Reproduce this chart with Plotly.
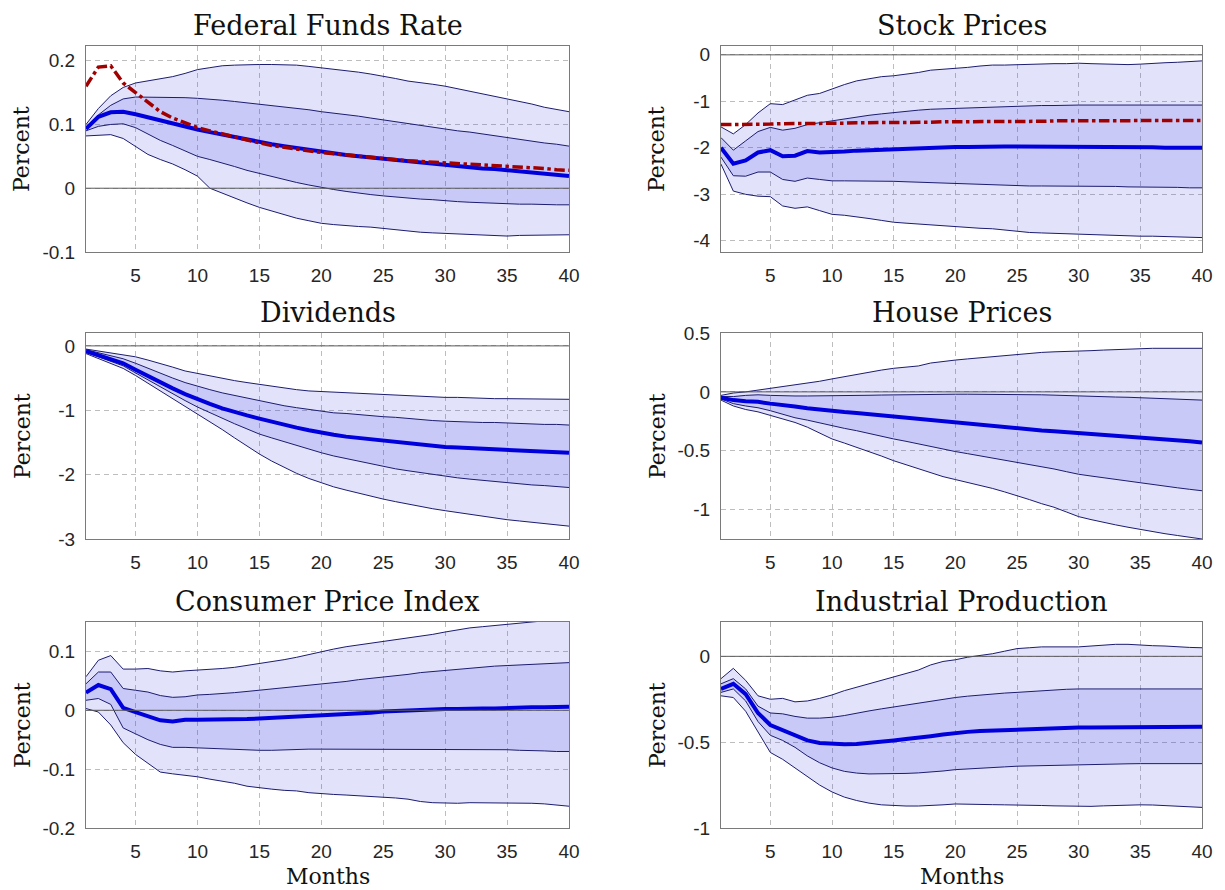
import plotly.graph_objects as go
from plotly.subplots import make_subplots

months = list(range(1, 41))

titles = ["Federal Funds Rate", "Stock Prices", "Dividends", "House Prices",
          "Consumer Price Index", "Industrial Production"]

# ---------------- Federal Funds Rate ----------------
ffr_med = [0.093, 0.112, 0.119, 0.120, 0.116, 0.111, 0.106, 0.102, 0.097, 0.092,
           0.088, 0.084, 0.080, 0.076, 0.072, 0.069, 0.066, 0.063, 0.060, 0.057,
           0.055, 0.052, 0.050, 0.048, 0.046, 0.044, 0.042, 0.040, 0.038, 0.036,
           0.034, 0.033, 0.031, 0.030, 0.028, 0.026, 0.025, 0.023, 0.021, 0.019]
ffr_red = [0.160, 0.190, 0.192, 0.165, 0.150, 0.135, 0.120, 0.110, 0.102, 0.095,
           0.090, 0.085, 0.080, 0.075, 0.071, 0.067, 0.064, 0.061, 0.058, 0.056,
           0.054, 0.052, 0.050, 0.048, 0.046, 0.045, 0.043, 0.042, 0.041, 0.039,
           0.038, 0.037, 0.036, 0.035, 0.034, 0.033, 0.032, 0.031, 0.029, 0.028]
ffr_hi68 = [0.095, 0.115, 0.130, 0.140, 0.143, 0.143, 0.143, 0.143, 0.142, 0.141,
            0.140, 0.138, 0.136, 0.134, 0.132, 0.130, 0.128, 0.125, 0.123, 0.120,
            0.118, 0.115, 0.113, 0.110, 0.107, 0.104, 0.101, 0.098, 0.095, 0.092,
            0.090, 0.088, 0.085, 0.082, 0.079, 0.077, 0.074, 0.071, 0.069, 0.066]
ffr_hi90 = [0.100, 0.125, 0.145, 0.158, 0.165, 0.168, 0.171, 0.175, 0.180, 0.186,
            0.189, 0.192, 0.193, 0.194, 0.194, 0.194, 0.194, 0.193, 0.191, 0.189,
            0.187, 0.185, 0.182, 0.179, 0.176, 0.172, 0.168, 0.166, 0.163, 0.160,
            0.156, 0.152, 0.148, 0.144, 0.141, 0.137, 0.132, 0.127, 0.123, 0.120]
ffr_lo68 = [0.090, 0.097, 0.100, 0.101, 0.095, 0.085, 0.075, 0.067, 0.058, 0.050,
            0.045, 0.040, 0.034, 0.028, 0.023, 0.018, 0.013, 0.009, 0.005, 0.001,
            -0.002, -0.005, -0.008, -0.010, -0.012, -0.014, -0.015, -0.017, -0.018, -0.020,
            -0.021, -0.022, -0.023, -0.024, -0.025, -0.025, -0.025, -0.026, -0.026, -0.026]
ffr_lo90 = [0.082, 0.083, 0.084, 0.078, 0.066, 0.053, 0.045, 0.038, 0.029, 0.019,
            0.000, -0.008, -0.016, -0.023, -0.030, -0.036, -0.042, -0.047, -0.051, -0.055,
            -0.057, -0.059, -0.060, -0.061, -0.063, -0.065, -0.068, -0.069, -0.070, -0.071,
            -0.072, -0.073, -0.074, -0.075, -0.075, -0.074, -0.074, -0.073, -0.073, -0.073]

# ---------------- Stock Prices ----------------
sp_med = [-2.00, -2.34, -2.27, -2.10, -2.05, -2.18, -2.17, -2.07, -2.10, -2.10,
          -2.08, -2.06, -2.05, -2.04, -2.03, -2.02, -2.01, -1.98, -1.98, -1.98,
          -1.98, -1.97, -1.97, -1.97, -1.97, -1.97, -1.97, -1.97, -1.98, -1.98,
          -1.98, -1.98, -1.99, -1.99, -1.99, -1.99, -2.00, -2.00, -2.00, -2.00]
sp_red = [-1.50, -1.50, -1.49, -1.49, -1.49, -1.48, -1.48, -1.48, -1.47, -1.47,
          -1.47, -1.46, -1.46, -1.46, -1.45, -1.45, -1.45, -1.45, -1.44, -1.44,
          -1.44, -1.44, -1.43, -1.43, -1.43, -1.43, -1.43, -1.42, -1.42, -1.42,
          -1.42, -1.42, -1.42, -1.41, -1.41, -1.41, -1.41, -1.41, -1.41, -1.41]
sp_hi68 = [-1.78, -2.05, -1.85, -1.65, -1.56, -1.62, -1.58, -1.50, -1.46, -1.42,
           -1.38, -1.33, -1.30, -1.27, -1.24, -1.22, -1.19, -1.17, -1.16, -1.15,
           -1.14, -1.13, -1.12, -1.11, -1.10, -1.10, -1.09, -1.09, -1.08, -1.08,
           -1.08, -1.08, -1.08, -1.08, -1.08, -1.08, -1.08, -1.08, -1.08, -1.08]
sp_hi90 = [-1.55, -1.70, -1.50, -1.25, -1.05, -1.07, -0.97, -0.87, -0.83, -0.73,
           -0.64, -0.56, -0.52, -0.47, -0.45, -0.42, -0.38, -0.33, -0.31, -0.30,
           -0.27, -0.24, -0.22, -0.22, -0.21, -0.21, -0.20, -0.19, -0.19, -0.18,
           -0.19, -0.20, -0.20, -0.21, -0.20, -0.18, -0.17, -0.16, -0.14, -0.13]
sp_lo68 = [-2.20, -2.60, -2.61, -2.52, -2.52, -2.68, -2.72, -2.65, -2.68, -2.71,
           -2.71, -2.71, -2.71, -2.72, -2.72, -2.73, -2.74, -2.75, -2.76, -2.77,
           -2.78, -2.79, -2.80, -2.81, -2.82, -2.82, -2.82, -2.82, -2.82, -2.82,
           -2.83, -2.83, -2.83, -2.84, -2.84, -2.84, -2.85, -2.85, -2.86, -2.86]
sp_lo90 = [-2.35, -2.93, -3.00, -3.04, -3.05, -3.25, -3.30, -3.27, -3.35, -3.43,
           -3.45, -3.48, -3.52, -3.56, -3.60, -3.62, -3.64, -3.65, -3.68, -3.70,
           -3.71, -3.73, -3.74, -3.77, -3.80, -3.82, -3.83, -3.84, -3.85, -3.86,
           -3.87, -3.87, -3.88, -3.89, -3.90, -3.90, -3.91, -3.92, -3.92, -3.93]

# ---------------- Dividends ----------------
dv_med = [-0.08, -0.14, -0.20, -0.27, -0.37, -0.47, -0.57, -0.66, -0.75, -0.83,
          -0.90, -0.97, -1.03, -1.08, -1.13, -1.18, -1.23, -1.27, -1.31, -1.35,
          -1.38, -1.41, -1.43, -1.46, -1.48, -1.50, -1.52, -1.54, -1.55, -1.57,
          -1.58, -1.59, -1.60, -1.61, -1.62, -1.63, -1.64, -1.64, -1.65, -1.66]
dv_hi68 = [-0.06, -0.11, -0.16, -0.20, -0.27, -0.35, -0.42, -0.50, -0.57, -0.63,
           -0.68, -0.73, -0.77, -0.82, -0.86, -0.89, -0.93, -0.96, -0.99, -1.02,
           -1.04, -1.05, -1.07, -1.08, -1.10, -1.11, -1.13, -1.14, -1.16, -1.17,
           -1.18, -1.18, -1.19, -1.19, -1.20, -1.21, -1.21, -1.22, -1.22, -1.23]
dv_hi90 = [-0.05, -0.08, -0.11, -0.13, -0.17, -0.22, -0.27, -0.33, -0.39, -0.43,
           -0.47, -0.50, -0.54, -0.57, -0.60, -0.63, -0.65, -0.68, -0.70, -0.71,
           -0.72, -0.73, -0.74, -0.75, -0.76, -0.77, -0.78, -0.79, -0.79, -0.80,
           -0.80, -0.81, -0.81, -0.82, -0.82, -0.82, -0.82, -0.83, -0.83, -0.83]
dv_lo68 = [-0.10, -0.17, -0.24, -0.31, -0.42, -0.53, -0.64, -0.75, -0.85, -0.95,
           -1.04, -1.12, -1.21, -1.29, -1.37, -1.43, -1.49, -1.55, -1.61, -1.66,
           -1.71, -1.75, -1.80, -1.84, -1.88, -1.91, -1.94, -1.97, -2.00, -2.03,
           -2.05, -2.07, -2.09, -2.11, -2.13, -2.14, -2.16, -2.17, -2.19, -2.20]
dv_lo90 = [-0.12, -0.20, -0.27, -0.35, -0.46, -0.58, -0.70, -0.82, -0.93, -1.05,
           -1.17, -1.30, -1.43, -1.56, -1.68, -1.79, -1.89, -1.98, -2.06, -2.13,
           -2.19, -2.24, -2.29, -2.34, -2.38, -2.42, -2.46, -2.49, -2.53, -2.56,
           -2.59, -2.62, -2.65, -2.68, -2.70, -2.72, -2.74, -2.76, -2.78, -2.80]

# ---------------- House Prices ----------------
hp_med = [-0.050, -0.070, -0.080, -0.085, -0.100, -0.110, -0.125, -0.140, -0.152, -0.165,
          -0.172, -0.180, -0.190, -0.200, -0.212, -0.222, -0.233, -0.245, -0.255, -0.265,
          -0.270, -0.278, -0.288, -0.298, -0.310, -0.320, -0.328, -0.335, -0.342, -0.350,
          -0.357, -0.364, -0.371, -0.378, -0.385, -0.393, -0.402, -0.411, -0.420, -0.430]
hp_hi68 = [-0.040, -0.040, -0.030, -0.025, -0.030, -0.035, -0.035, -0.035, -0.035, -0.035,
           -0.033, -0.031, -0.029, -0.027, -0.025, -0.023, -0.022, -0.021, -0.020, -0.020,
           -0.020, -0.020, -0.020, -0.020, -0.020, -0.020, -0.025, -0.028, -0.032, -0.038,
           -0.040, -0.042, -0.044, -0.046, -0.050, -0.054, -0.058, -0.062, -0.066, -0.070]
hp_hi90 = [-0.030, -0.010, 0.000, 0.015, 0.025, 0.040, 0.055, 0.070, 0.090, 0.110,
           0.130, 0.150, 0.170, 0.185, 0.200, 0.210, 0.220, 0.245, 0.260, 0.270,
           0.280, 0.290, 0.300, 0.310, 0.320, 0.330, 0.335, 0.340, 0.342, 0.345,
           0.350, 0.355, 0.360, 0.365, 0.370, 0.370, 0.370, 0.370, 0.370, 0.370]
hp_lo68 = [-0.060, -0.100, -0.120, -0.135, -0.160, -0.190, -0.220, -0.240, -0.265, -0.290,
           -0.310, -0.330, -0.355, -0.378, -0.400, -0.420, -0.443, -0.465, -0.487, -0.507,
           -0.525, -0.543, -0.560, -0.578, -0.595, -0.615, -0.635, -0.655, -0.678, -0.700,
           -0.715, -0.730, -0.745, -0.758, -0.770, -0.785, -0.800, -0.815, -0.828, -0.840]
hp_lo90 = [-0.070, -0.120, -0.150, -0.170, -0.200, -0.230, -0.260, -0.300, -0.350, -0.400,
           -0.435, -0.470, -0.510, -0.545, -0.585, -0.620, -0.655, -0.690, -0.720, -0.745,
           -0.770, -0.790, -0.820, -0.850, -0.880, -0.915, -0.950, -0.980, -1.020, -1.060,
           -1.085, -1.110, -1.130, -1.150, -1.170, -1.190, -1.205, -1.220, -1.235, -1.250]

# ---------------- Consumer Price Index ----------------
cpi_med = [0.030, 0.043, 0.036, 0.004, -0.003, -0.010, -0.017, -0.019, -0.016, -0.016,
           -0.016, -0.016, -0.015, -0.015, -0.014, -0.013, -0.012, -0.011, -0.010, -0.008,
           -0.007, -0.006, -0.005, -0.004, -0.002, -0.001, 0.000, 0.001, 0.001, 0.002,
           0.002, 0.003, 0.003, 0.003, 0.004, 0.004, 0.005, 0.005, 0.006, 0.006]
cpi_hi68 = [0.045, 0.065, 0.065, 0.037, 0.034, 0.031, 0.025, 0.022, 0.023, 0.026,
            0.027, 0.028, 0.030, 0.032, 0.034, 0.036, 0.038, 0.040, 0.042, 0.045,
            0.047, 0.049, 0.052, 0.054, 0.057, 0.059, 0.061, 0.064, 0.066, 0.068,
            0.070, 0.072, 0.073, 0.075, 0.076, 0.077, 0.078, 0.079, 0.080, 0.081]
cpi_hi90 = [0.057, 0.085, 0.093, 0.070, 0.070, 0.071, 0.067, 0.065, 0.067, 0.068,
            0.069, 0.071, 0.073, 0.076, 0.080, 0.083, 0.086, 0.090, 0.095, 0.100,
            0.104, 0.108, 0.111, 0.114, 0.117, 0.119, 0.122, 0.125, 0.129, 0.133,
            0.137, 0.140, 0.142, 0.144, 0.145, 0.147, 0.150, 0.152, 0.155, 0.158]
cpi_lo68 = [0.017, 0.020, 0.010, -0.030, -0.040, -0.050, -0.058, -0.063, -0.063, -0.064,
            -0.065, -0.066, -0.067, -0.068, -0.068, -0.068, -0.067, -0.067, -0.066, -0.066,
            -0.066, -0.066, -0.066, -0.066, -0.066, -0.066, -0.066, -0.067, -0.067, -0.067,
            -0.067, -0.067, -0.067, -0.067, -0.067, -0.068, -0.068, -0.069, -0.070, -0.070]
cpi_lo90 = [0.003, -0.003, -0.025, -0.055, -0.075, -0.090, -0.105, -0.108, -0.110, -0.113,
            -0.117, -0.120, -0.124, -0.129, -0.132, -0.134, -0.136, -0.137, -0.140, -0.142,
            -0.143, -0.144, -0.145, -0.146, -0.147, -0.149, -0.151, -0.155, -0.157, -0.158,
            -0.158, -0.157, -0.157, -0.157, -0.157, -0.158, -0.158, -0.159, -0.161, -0.163]

# ---------------- Industrial Production ----------------
ip_med = [-0.190, -0.160, -0.220, -0.330, -0.400, -0.430, -0.460, -0.490, -0.505, -0.510,
          -0.512, -0.510, -0.505, -0.500, -0.490, -0.482, -0.475, -0.465, -0.455, -0.445,
          -0.440, -0.435, -0.432, -0.428, -0.425, -0.423, -0.421, -0.419, -0.417, -0.415,
          -0.414, -0.413, -0.412, -0.411, -0.410, -0.410, -0.410, -0.410, -0.410, -0.410]
ip_hi68 = [-0.160, -0.130, -0.190, -0.290, -0.330, -0.335, -0.350, -0.360, -0.360, -0.355,
           -0.345, -0.330, -0.318, -0.306, -0.295, -0.283, -0.271, -0.260, -0.250, -0.240,
           -0.232, -0.225, -0.219, -0.214, -0.210, -0.205, -0.200, -0.195, -0.192, -0.190,
           -0.190, -0.190, -0.190, -0.190, -0.190, -0.190, -0.190, -0.190, -0.190, -0.190]
ip_hi90 = [-0.130, -0.070, -0.140, -0.230, -0.250, -0.245, -0.265, -0.260, -0.245, -0.225,
           -0.200, -0.180, -0.160, -0.140, -0.120, -0.100, -0.080, -0.050, -0.030, -0.020,
           -0.005, 0.005, 0.015, 0.030, 0.045, 0.050, 0.055, 0.055, 0.055, 0.055,
           0.060, 0.065, 0.070, 0.070, 0.065, 0.062, 0.060, 0.055, 0.052, 0.050]
ip_lo68 = [-0.210, -0.190, -0.260, -0.380, -0.460, -0.490, -0.530, -0.580, -0.620, -0.650,
           -0.670, -0.680, -0.685, -0.685, -0.685, -0.682, -0.679, -0.675, -0.668, -0.660,
           -0.655, -0.650, -0.647, -0.644, -0.640, -0.638, -0.636, -0.634, -0.632, -0.630,
           -0.629, -0.628, -0.627, -0.626, -0.625, -0.625, -0.625, -0.625, -0.625, -0.625]
ip_lo90 = [-0.230, -0.240, -0.320, -0.440, -0.560, -0.600, -0.650, -0.700, -0.750, -0.790,
           -0.820, -0.840, -0.855, -0.865, -0.870, -0.872, -0.872, -0.870, -0.865, -0.860,
           -0.860, -0.862, -0.864, -0.865, -0.865, -0.867, -0.869, -0.871, -0.873, -0.875,
           -0.874, -0.871, -0.868, -0.866, -0.865, -0.866, -0.869, -0.873, -0.877, -0.880]

# ---------------- Axis ticks ----------------
x_ticks = [5, 10, 15, 20, 25, 30, 35, 40]
x_ticktext = ["5", "10", "15", "20", "25", "30", "35", "40"]

ffr_yticks = [-0.1, 0, 0.1, 0.2]
ffr_yticktext = ["-0.1", "0", "0.1", "0.2"]
sp_yticks = [-4, -3, -2, -1, 0]
sp_yticktext = ["-4", "-3", "-2", "-1", "0"]
dv_yticks = [-3, -2, -1, 0]
dv_yticktext = ["-3", "-2", "-1", "0"]
hp_yticks = [-1, -0.5, 0, 0.5]
hp_yticktext = ["-1", "-0.5", "0", "0.5"]
cpi_yticks = [-0.2, -0.1, 0, 0.1]
cpi_yticktext = ["-0.2", "-0.1", "0", "0.1"]
ip_yticks = [-1, -0.5, 0]
ip_yticktext = ["-1", "-0.5", "0"]

ffr_yrange = [-0.1, 0.223]
sp_yrange = [-4.24, 0.19]
dv_yrange = [-3.0, 0.2]
hp_yrange = [-1.25, 0.5]
cpi_yrange = [-0.2, 0.15]
ip_yrange = [-1.0, 0.2]

panels = [
    dict(row=1, col=1, med=ffr_med, hi68=ffr_hi68, lo68=ffr_lo68, hi90=ffr_hi90, lo90=ffr_lo90,
         red=ffr_red, yr=ffr_yrange, yt=ffr_yticks, ytt=ffr_yticktext),
    dict(row=1, col=2, med=sp_med, hi68=sp_hi68, lo68=sp_lo68, hi90=sp_hi90, lo90=sp_lo90,
         red=sp_red, yr=sp_yrange, yt=sp_yticks, ytt=sp_yticktext),
    dict(row=2, col=1, med=dv_med, hi68=dv_hi68, lo68=dv_lo68, hi90=dv_hi90, lo90=dv_lo90,
         red=None, yr=dv_yrange, yt=dv_yticks, ytt=dv_yticktext),
    dict(row=2, col=2, med=hp_med, hi68=hp_hi68, lo68=hp_lo68, hi90=hp_hi90, lo90=hp_lo90,
         red=None, yr=hp_yrange, yt=hp_yticks, ytt=hp_yticktext),
    dict(row=3, col=1, med=cpi_med, hi68=cpi_hi68, lo68=cpi_lo68, hi90=cpi_hi90, lo90=cpi_lo90,
         red=None, yr=cpi_yrange, yt=cpi_yticks, ytt=cpi_yticktext),
    dict(row=3, col=2, med=ip_med, hi68=ip_hi68, lo68=ip_lo68, hi90=ip_hi90, lo90=ip_lo90,
         red=None, yr=ip_yrange, yt=ip_yticks, ytt=ip_yticktext),
]

# the page body adds an 8px margin, so the figure is made 8px smaller
# and all pixel positions are shifted by -8 to line up with the window
OFF = 8
W, H = 1225 - OFF, 890 - OFF
col_dom = {1: [(86 - OFF) / W, (569 - OFF) / W], 2: [(721 - OFF) / W, (1202 - OFF) / W]}
row_px = {1: (46, 252), 2: (333, 539), 3: (622, 828)}
row_dom = {r: [1 - (b - OFF) / H, 1 - (t - OFF) / H] for r, (t, b) in row_px.items()}

BAND = "rgba(60,60,230,0.15)"
EDGE = "#1c1c70"
MED = "#0000dc"
RED = "#a00000"
GRID = "#bdbdbd"
AXC = "#7a7a7a"
SERIF = "DejaVu Serif"
SANS = "Liberation Sans"

fig = make_subplots(rows=3, cols=2)

for p in panels:
    r, c = p["row"], p["col"]
    edge = dict(color=EDGE, width=1)
    fig.add_trace(go.Scatter(x=months, y=p["lo90"], mode="lines", line=edge,
                             hoverinfo="skip"), row=r, col=c)
    fig.add_trace(go.Scatter(x=months, y=p["hi90"], mode="lines", line=edge, fill="tonexty",
                             fillcolor=BAND, hoverinfo="skip"), row=r, col=c)
    fig.add_trace(go.Scatter(x=months, y=p["lo68"], mode="lines", line=edge,
                             hoverinfo="skip"), row=r, col=c)
    fig.add_trace(go.Scatter(x=months, y=p["hi68"], mode="lines", line=edge, fill="tonexty",
                             fillcolor=BAND, hoverinfo="skip"), row=r, col=c)
    fig.add_hline(y=0, line=dict(color="#5a5a5a", width=1), row=r, col=c)
    fig.add_trace(go.Scatter(x=months, y=p["med"], mode="lines",
                             line=dict(color=MED, width=4)), row=r, col=c)
    if p["red"] is not None:
        fig.add_trace(go.Scatter(x=months, y=p["red"], mode="lines",
                                 line=dict(color=RED, width=3.5, dash="dashdot")), row=r, col=c)

    fig.update_xaxes(domain=col_dom[c], range=[1, 40], tickvals=x_ticks, ticktext=x_ticktext,
                     showgrid=True, gridcolor=GRID, griddash="5px,4px", gridwidth=1,
                     showline=True, mirror=True, linecolor=AXC, linewidth=1,
                     zeroline=False, ticks="", ticklabelstandoff=6, automargin=False,
                     tickfont=dict(family=SANS, size=19, color="#262626"),
                     row=r, col=c)
    fig.update_yaxes(domain=row_dom[r], range=p["yr"], tickvals=p["yt"], ticktext=p["ytt"],
                     showgrid=True, gridcolor=GRID, griddash="5px,4px", gridwidth=1,
                     showline=True, mirror=True, linecolor=AXC, linewidth=1,
                     zeroline=False, ticks="", ticklabelstandoff=6, automargin=False,
                     tickfont=dict(family=SANS, size=19, color="#262626"),
                     row=r, col=c)

annotations = []
for i, p in enumerate(panels):
    r, c = p["row"], p["col"]
    xd, yd = col_dom[c], row_dom[r]
    annotations.append(dict(text=titles[i], x=(xd[0] + xd[1]) / 2, y=yd[1], xref="paper",
                            yref="paper", xanchor="center", yanchor="bottom", yshift=4,
                            borderpad=0,
                            showarrow=False, font=dict(family=SERIF, size=27, color="#111111")))
    annotations.append(dict(text="Percent", x=xd[0], y=(yd[0] + yd[1]) / 2, xref="paper",
                            yref="paper", xanchor="center", yanchor="middle", xshift=-64,
                            textangle=-90, showarrow=False,
                            font=dict(family=SERIF, size=22, color="#111111")))
for c in (1, 2):
    xd = col_dom[c]
    annotations.append(dict(text="Months", x=(xd[0] + xd[1]) / 2, y=row_dom[3][0],
                            xref="paper", yref="paper", xanchor="center", yanchor="middle",
                            yshift=-48, showarrow=False,
                            font=dict(family=SERIF, size=22, color="#111111")))

fig.update_layout(width=W, height=H, margin=dict(l=0, r=0, t=0, b=0, autoexpand=False),
                  paper_bgcolor="white", plot_bgcolor="white", showlegend=False,
                  annotations=annotations)

fig.write_html("out.html")
